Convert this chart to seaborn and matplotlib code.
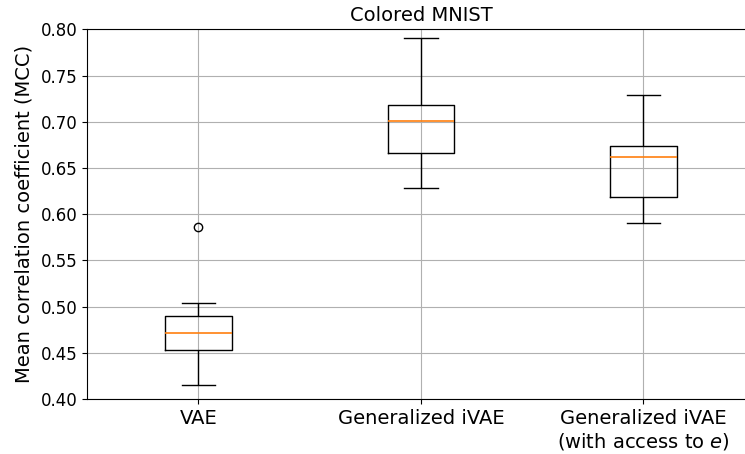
import matplotlib
matplotlib.use("Agg")
import matplotlib.pyplot as plt
import seaborn as sns
import pandas as pd

# MCC scores per model across runs
models = ["VAE", "Generalized iVAE", "Generalized iVAE\n(with access to $e$)"]
vae_mcc = [0.4155, 0.4400, 0.4528, 0.4620, 0.4712, 0.4800, 0.4896, 0.5040, 0.5865]
givae_mcc = [0.6280, 0.6500, 0.6660, 0.6850, 0.7004, 0.7100, 0.7180, 0.7500, 0.7902]
givae_e_mcc = [0.5900, 0.6050, 0.6186, 0.6400, 0.6623, 0.6680, 0.6735, 0.7000, 0.7292]

df = pd.DataFrame({
    "model": [models[0]] * len(vae_mcc) + [models[1]] * len(givae_mcc) + [models[2]] * len(givae_e_mcc),
    "mcc": vae_mcc + givae_mcc + givae_e_mcc,
})

fig = plt.figure(figsize=(7.45, 4.54), dpi=100)
ax = fig.add_axes([87 / 745, 55 / 454, 667.8 / 745, 369.7 / 454])

sns.boxplot(
    data=df, x="model", y="mcc", order=models, ax=ax,
    fill=False, color="black", linewidth=1.0, width=0.3, whis=1.5,
    medianprops={"color": "#ff7f0e", "linewidth": 1.2},
    flierprops={"marker": "o", "markerfacecolor": "none",
                "markeredgecolor": "black", "markersize": 6},
)

ax.set_ylim(0.40, 0.80)
ax.set_xlim(-0.5, 2.5)
ax.set_yticks([0.40, 0.45, 0.50, 0.55, 0.60, 0.65, 0.70, 0.75, 0.80])
ax.set_yticklabels([f"{v:.2f}" for v in ax.get_yticks()])
ax.grid(True, color="#b0b0b0", linewidth=0.8)
ax.set_axisbelow(True)
ax.spines["right"].set_visible(False)
ax.set_xlabel("")
ax.set_ylabel("Mean correlation coefficient (MCC)", fontsize=14, labelpad=5)
ax.set_title("Colored MNIST", fontsize=14)
ax.tick_params(axis="y", labelsize=12)
ax.tick_params(axis="x", labelsize=14)

fig.savefig("out.png", dpi=100)
